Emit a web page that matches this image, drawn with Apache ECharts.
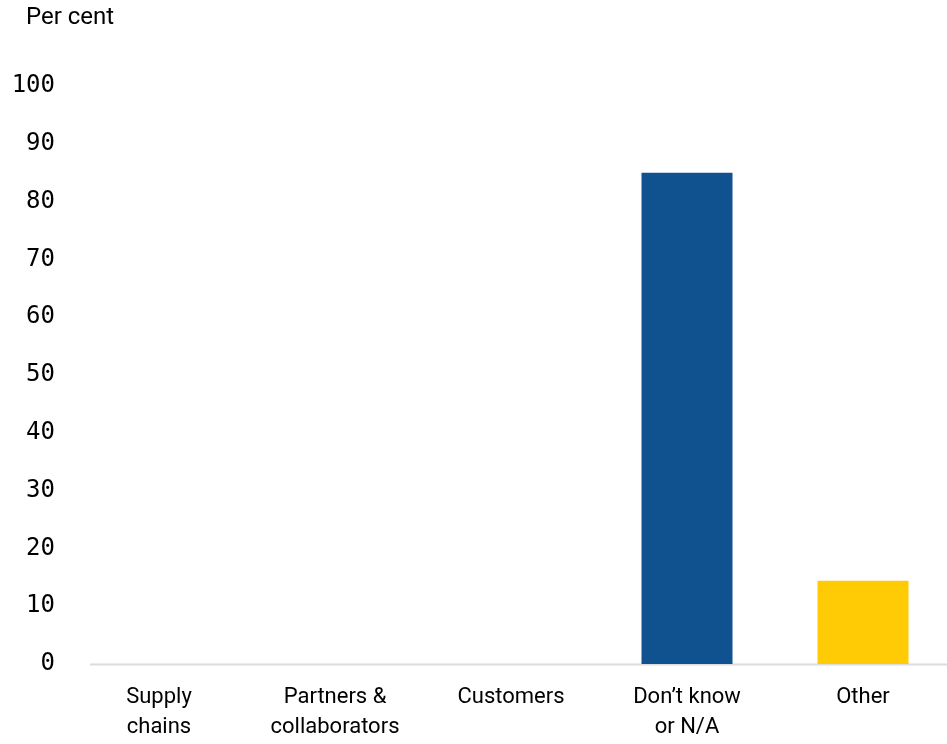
<!DOCTYPE html>
<html>
<head>
<meta charset="utf-8">
<script src="https://cdn.jsdelivr.net/npm/echarts@6/dist/echarts.min.js"></script>
<style>
  html, body { margin: 0; padding: 0; background: #ffffff; }
  #chart { width: 947px; height: 744px; }
</style>
</head>
<body>
<div id="chart"></div>
<script>
// Share of respondents by where the impact is felt
const categories = ['Supply\nchains', 'Partners &\ncollaborators', 'Customers', 'Don\u2019t know\nor N/A', 'Other'];
const values = [0, 0, 0, 85, 14.4];
const barColors = ['#105190', '#105190', '#105190', '#105190', '#FFCB05'];
const yTicks = { min: 0, max: 100, step: 10 };

const chart = echarts.init(document.getElementById('chart'), null, { renderer: 'canvas' });

chart.setOption({
  animation: false,
  backgroundColor: '#ffffff',
  grid: { left: 71, width: 880, top: 86, bottom: 80, outerBoundsMode: 'none', containLabel: false },
  xAxis: {
    type: 'category',
    data: categories,
    axisLine: { show: false },
    axisTick: { show: false },
    axisLabel: {
      color: '#000000',
      fontSize: 22,
      fontFamily: 'Roboto, sans-serif',
      lineHeight: 30,
      margin: 18,
      interval: 0
    }
  },
  yAxis: {
    type: 'value',
    min: yTicks.min,
    max: yTicks.max,
    interval: yTicks.step,
    splitLine: { show: false },
    axisLine: { show: false },
    axisTick: { show: false },
    axisLabel: {
      color: '#000000',
      fontSize: 24,
      fontFamily: '"DejaVu Sans Mono", monospace',
      margin: 16,
      verticalAlign: 'bottom',
      padding: [0, 0, -12, 0]
    }
  },
  series: [{
    type: 'bar',
    data: values.map((v, i) => ({ value: v, itemStyle: { color: barColors[i] } })),
    barWidth: 91
  }]
});

// Baseline and unit caption, placed from the axis scale
const zeroY = chart.convertToPixel({ gridIndex: 0 }, [0, 0])[1];
chart.setOption({
  graphic: [
    {
      type: 'line',
      shape: { x1: 90, y1: zeroY + 0.5, x2: 947, y2: zeroY + 0.5 },
      style: { stroke: '#dcdcdc', lineWidth: 2 }
    },
    {
      type: 'text',
      left: 26,
      top: 6,
      style: { text: 'Per cent', font: '24px Roboto, sans-serif', fill: '#000000' }
    }
  ]
});
</script>
</body>
</html>
